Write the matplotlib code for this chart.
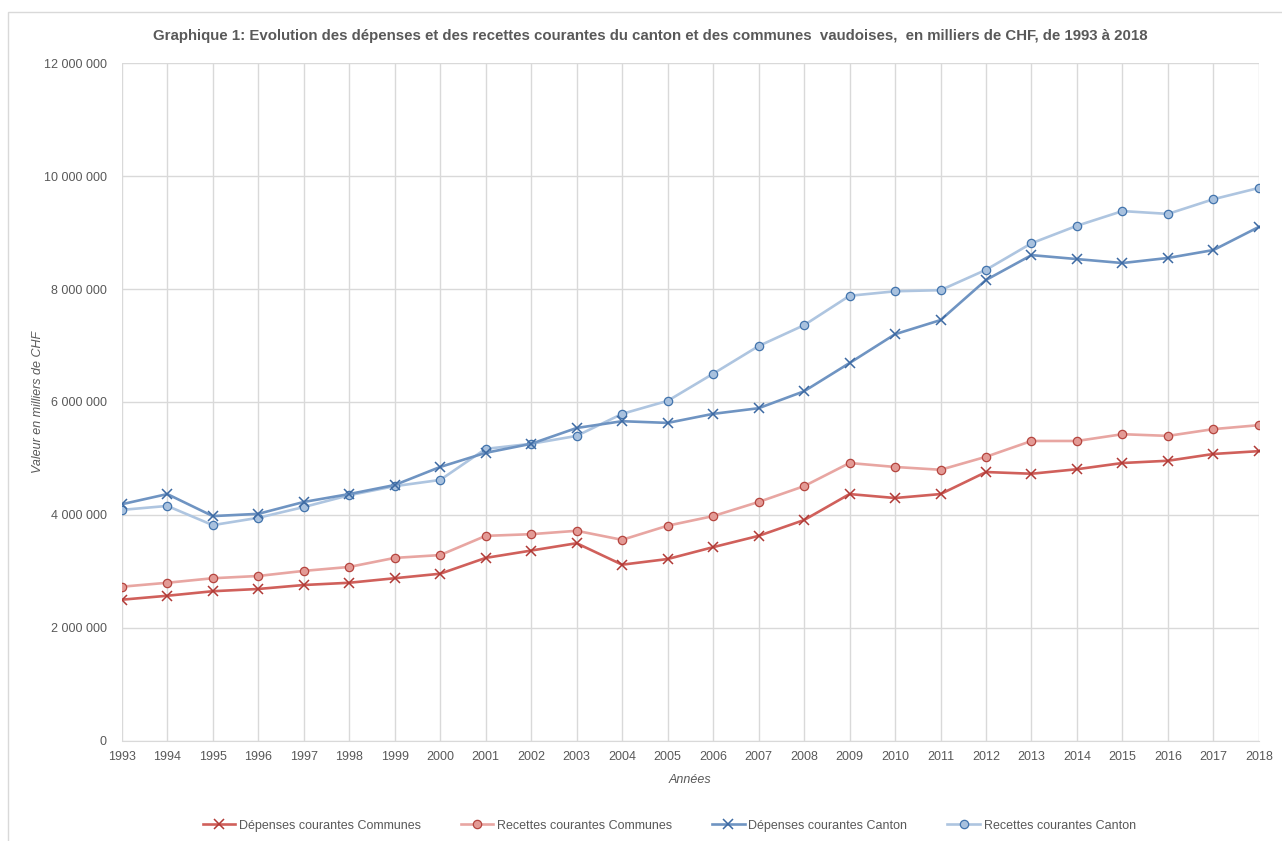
import matplotlib.pyplot as plt
from matplotlib.patches import Rectangle
from matplotlib.ticker import FuncFormatter

plt.rcParams['font.family'] = ['Liberation Sans', 'DejaVu Sans']

years = list(range(1993, 2019))

dep_communes = [2.50, 2.57, 2.65, 2.69, 2.76, 2.80, 2.88, 2.96, 3.24, 3.37, 3.50, 3.12, 3.22,
                3.43, 3.63, 3.91, 4.37, 4.30, 4.37, 4.76, 4.73, 4.81, 4.92, 4.96, 5.08, 5.13]
rec_communes = [2.73, 2.80, 2.88, 2.92, 3.01, 3.08, 3.24, 3.29, 3.63, 3.66, 3.72, 3.56, 3.81,
                3.98, 4.23, 4.51, 4.92, 4.85, 4.80, 5.03, 5.31, 5.31, 5.43, 5.40, 5.52, 5.59]
dep_canton = [4.19, 4.37, 3.98, 4.02, 4.23, 4.37, 4.53, 4.85, 5.10, 5.26, 5.54, 5.66, 5.63,
              5.79, 5.89, 6.19, 6.69, 7.20, 7.45, 8.16, 8.60, 8.53, 8.46, 8.55, 8.69, 9.10]
rec_canton = [4.09, 4.16, 3.82, 3.95, 4.14, 4.35, 4.51, 4.62, 5.17, 5.26, 5.40, 5.79, 6.02,
              6.50, 6.99, 7.36, 7.88, 7.96, 7.98, 8.34, 8.81, 9.12, 9.38, 9.33, 9.59, 9.79]

fig = plt.figure(figsize=(12.82, 8.41), dpi=100)
ax = fig.add_axes([0.095, 0.119, 0.887, 0.806])

# outer frame
fig.patches.append(Rectangle((0.006, -0.01), 1.2, 0.996, transform=fig.transFigure,
                             fill=False, edgecolor='#d9d9d9', linewidth=1))

def scale(vals):
    return [v * 1e6 for v in vals]

ax.plot(years, scale(dep_communes), color='#d0605b', lw=1.9, marker='x', ms=7, mew=1.1,
        mec='#b03a36', label='Dépenses courantes Communes', zorder=4)
ax.plot(years, scale(rec_communes), color='#e8a6a2', lw=1.9, marker='o', ms=6,
        mfc='#e39a95', mec='#b5453f', mew=0.9, label='Recettes courantes Communes', zorder=3)
ax.plot(years, scale(dep_canton), color='#6f94c2', lw=1.9, marker='x', ms=7, mew=1.1,
        mec='#3d6aa3', label='Dépenses courantes Canton', zorder=4)
ax.plot(years, scale(rec_canton), color='#aec5e0', lw=1.9, marker='o', ms=6,
        mfc='#a8c1de', mec='#4274ad', mew=0.9, label='Recettes courantes Canton', zorder=3)

ax.set_xlim(1993, 2018)
ax.set_ylim(0, 12e6)
ax.set_xticks(years)
ax.set_yticks([i * 2e6 for i in range(7)])
ax.yaxis.set_major_formatter(FuncFormatter(lambda v, p: f'{int(v):,}'.replace(',', ' ')))
ax.grid(True, color='#d9d9d9', lw=1)
ax.set_axisbelow(True)
for s in ['top', 'right', 'left']:
    ax.spines[s].set_visible(False)
ax.spines['bottom'].set_color('#d9d9d9')
ax.tick_params(length=0, labelsize=9, colors='#595959')
ax.tick_params(axis='y', pad=11)
ax.tick_params(axis='x', pad=7)

ax.set_xlabel('Années', style='italic', fontsize=9, color='#595959', labelpad=8)
ax.set_ylabel('Valeur en milliers de CHF', style='italic', fontsize=9, color='#595959')
ax.yaxis.set_label_coords(-0.068, 0.5)
fig.text(0.507, 0.957, 'Graphique 1: Evolution des dépenses et des recettes courantes du canton et des communes  vaudoises,  en milliers de CHF, de 1993 à 2018',
         ha='center', va='center', fontsize=10.8, fontweight='bold', color='#595959')

fig.legend(loc='center', bbox_to_anchor=(0.522, 0.018), ncol=4, frameon=False,
           fontsize=9, labelcolor='#595959', columnspacing=3.2, handlelength=2.6, handletextpad=0.3)

fig.savefig('out.png', dpi=100)
